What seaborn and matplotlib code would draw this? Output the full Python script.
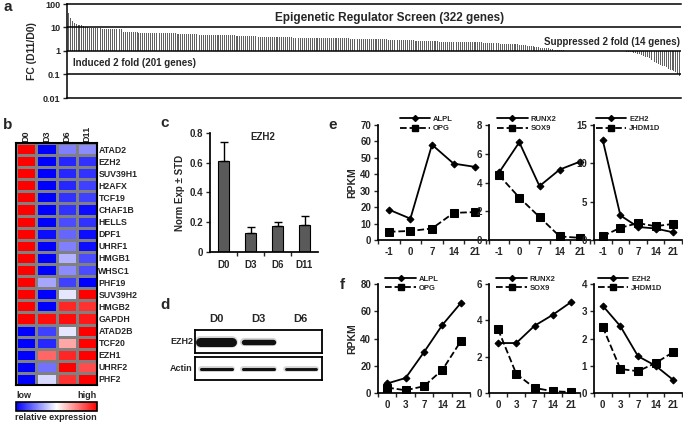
import numpy as np
import pandas as pd
import matplotlib
matplotlib.use("Agg")
import matplotlib.pyplot as plt
import seaborn as sns
from matplotlib.lines import Line2D
from matplotlib.ticker import NullLocator, FixedLocator

# ---- data ----
# a: fold change D11/D0, 322 genes, sorted
fc = [42, 26, 19, 16, 14, 13, 13, 12.5, 12, 11, 10, 9.8, 9.6, 9.5, 9.4, 9.3, 9.2, 9.1, 9.0, 8.9,
      8.9, 8.8, 8.8, 8.7, 8.7, 8.6, 8.6, 8.5, 8.5, 6.6, 6.5, 6.4, 6.4, 6.3, 6.3, 6.2, 6.2, 6.1, 6.1, 6.0,
      6.0, 6.0, 5.9, 5.9, 5.9, 5.8, 5.8, 5.8, 5.8, 5.7, 5.7, 5.7, 5.7, 5.7, 5.6, 5.6, 5.6, 5.5, 5.5, 5.5,
      5.4, 5.4, 5.3, 5.3, 5.2, 5.2, 5.1, 5.1, 5.0, 5.0, 5.0, 5.0, 5.0, 5.0, 5.0, 4.9, 4.9, 4.9, 4.9, 4.9,
      4.8, 4.8, 4.8, 4.7, 4.7, 4.6, 4.6, 4.6, 4.5, 4.5, 4.4, 4.4, 4.4, 4.3, 4.3, 4.3, 4.2, 4.2, 4.2, 4.1,
      4.1, 4.1, 4.1, 4.0, 4.0, 4.0, 4.0, 3.9, 3.9, 3.9, 3.9, 3.9, 3.8, 3.8, 3.8, 3.8, 3.8, 3.8, 3.7, 3.7,
      3.7, 3.7, 3.7, 3.7, 3.7, 3.7, 3.6, 3.6, 3.6, 3.6, 3.6, 3.6, 3.6, 3.6, 3.6, 3.5, 3.5, 3.5, 3.5, 3.5,
      3.5, 3.5, 3.5, 3.5, 3.5, 3.5, 3.5, 3.5, 3.4, 3.4, 3.4, 3.3, 3.3, 3.3, 3.3, 3.2, 3.2, 3.2, 3.2, 3.2,
      3.1, 3.1, 3.1, 3.1, 3.1, 3.1, 3.1, 3.1, 3.0, 3.0, 3.0, 3.0, 3.0, 2.9, 2.9, 2.9, 2.9, 2.8, 2.8, 2.8,
      2.8, 2.8, 2.7, 2.7, 2.7, 2.7, 2.7, 2.6, 2.6, 2.6, 2.6, 2.6, 2.6, 2.6, 2.6, 2.5, 2.5, 2.5, 2.5, 2.5,
      2.5, 2.4, 2.4, 2.4, 2.4, 2.4, 2.4, 2.4, 2.3, 2.3, 2.3, 2.3, 2.3, 2.3, 2.3, 2.3, 2.3, 2.3, 2.2, 2.2,
      2.2, 2.2, 2.2, 2.1, 2.1, 2.1, 2.1, 2.0, 2.0, 2.0, 2.0, 2.0, 1.9, 1.9, 1.9, 1.9, 1.9, 1.8, 1.8, 1.8,
      1.8, 1.7, 1.7, 1.6, 1.6, 1.5, 1.5, 1.5, 1.4, 1.4, 1.35, 1.3, 1.3, 1.25, 1.2, 1.2, 1.15, 1.12, 1.1, 1.08,
      1.06, 1.05, 1.04, 1.03, 1.02, 1.02, 1.01, 1.01, 1.01, 1.0, 1.0, 1.0, 1.0, 1.0, 1.0, 1.0, 1.0, 1.0, 1.0, 1.0,
      1.0, 1.0, 1.0, 1.0, 1.0, 1.0, 1.0, 1.0, 0.99, 0.99, 0.98, 0.97, 0.96, 0.95, 0.93, 0.9, 0.88, 0.85, 0.8, 0.76,
      0.72, 0.68, 0.63, 0.58, 0.53, 0.48, 0.43, 0.38, 0.35, 0.32, 0.29, 0.26, 0.24, 0.22, 0.2, 0.18, 0.16, 0.15, 0.14, 0.13,
      0.11, 0.09]

# b: relative expression heatmap (-1 low .. 1 high)
days_b = ["D0", "D3", "D6", "D11"]
genes_b = ["ATAD2", "EZH2", "SUV39H1", "H2AFX", "TCF19", "CHAF1B", "HELLS", "DPF1", "UHRF1",
           "HMGB1", "WHSC1", "PHF19", "SUV39H2", "HMGB2", "GAPDH", "ATAD2B", "TCF20", "EZH1",
           "UHRF2", "PHF2"]
expr_d0 = [1, 1, 1, 1, 1, 1, 1, 1, 1, 1, 1, 1, 1, 1, 1, -1, -1, -1, -1, -1]
expr_d3 = [-1, -1, -1, -1, -1, -1, -1, -0.95, -1, -1, -1, -0.35, -1, -1, 0.95, -0.75, -0.85, 0.6, -0.55, -0.15]
expr_d6 = [-0.5, -0.85, -0.85, -0.85, -0.8, -0.8, -0.7, -0.6, -0.5, -0.3, -0.45, -0.75, -0.1, 0.85, 0.95, -0.1, 0.35, 0.85, 1, 0.8]
expr_d11 = [-0.45, -0.8, -0.8, -0.75, -0.75, -0.95, -0.8, -0.95, -0.95, -0.7, -0.7, -1, 1, 0.8, 0.9, 1, 1, 1, 0.7, 1]

# c: EZH2 qPCR
days_c = ["D0", "D3", "D6", "D11"]
ezh2_norm = [0.61, 0.13, 0.175, 0.18]
ezh2_std = [0.13, 0.04, 0.025, 0.065]

# d: western blot band strength
lanes_d = ["D0", "D3", "D6"]
band_ezh2 = [1.0, 0.6, 0.0]
band_actin = [0.85, 0.85, 0.8]

# e / f: RNA-seq RPKM
days_e = ["-1", "0", "7", "14", "21"]
days_f = ["0", "3", "7", "14", "21"]
e_alpl = [18.5, 13, 58, 46.5, 44.5]
e_opg = [5, 5.5, 7, 16.5, 17]
e_runx2 = [4.7, 6.8, 3.75, 4.9, 5.45]
e_sox9 = [4.5, 2.95, 1.6, 0.25, 0.15]
e_ezh2 = [13, 3.2, 1.7, 1.5, 1.0]
e_jhdm1d = [0.5, 1.6, 2.2, 1.8, 2.1]
f_alpl = [7, 11, 30, 50, 66]
f_opg = [4, 2, 5, 17, 38]
f_runx2 = [2.75, 2.75, 3.7, 4.3, 5.0]
f_sox9 = [3.5, 1.05, 0.28, 0.1, 0.05]
f_ezh2 = [3.2, 2.45, 1.35, 1.0, 0.48]
f_jhdm1d = [2.42, 0.88, 0.8, 1.1, 1.5]

sns.set_theme(style="white")
plt.rcParams['font.family'] = ['Liberation Sans', 'DejaVu Sans']
plt.rcParams['font.weight'] = 'bold'
plt.rcParams['axes.labelweight'] = 'bold'
plt.rcParams['axes.edgecolor'] = 'black'

W, H = 683, 423
fig = plt.figure(figsize=(W / 100, H / 100), dpi=100)


def box(l, t, r, b):
    return fig.add_axes([l / W, 1 - b / H, (r - l) / W, (b - t) / H])


def letter(x, y, s):
    fig.text(x / W, 1 - y / H, s, fontsize=11, fontweight='bold', va='center', ha='left')


# ---------- a ----------
ax = box(67, 4, 681, 98)
idx = np.arange(len(fc))
ax.bar(idx, np.array(fc) - 1, bottom=1, width=0.5, color='#606060', linewidth=0)
ax.set_yscale('log')
ax.set_ylim(0.01, 100)
ax.set_xlim(-0.8, len(fc) - 0.3)
for v in [10, 1, 0.1]:
    ax.axhline(v, color='black', lw=1.1)
ax.yaxis.set_major_locator(FixedLocator([0.01, 0.1, 1, 10, 100]))
ax.yaxis.set_minor_locator(NullLocator())
ax.set_yticklabels(['0.01', '0.1', '1', '10', '100'])
ax.set_xticks([])
ax.spines['right'].set_visible(False)
for s in ['left', 'top', 'bottom']:
    ax.spines[s].set_linewidth(1.1)
ax.tick_params(axis='y', left=True, length=3, width=1, labelsize=6.5, pad=2)
ax.set_ylabel('FC (D11/D0)', fontsize=7.5, labelpad=4)
ax.text(0.526, 0.85, 'Epigenetic Regulator Screen (322 genes)', transform=ax.transAxes,
        ha='center', va='center', fontsize=8.5, fontweight='bold')
ax.text(0.998, 0.6, 'Suppressed 2 fold (14 genes)', transform=ax.transAxes,
        ha='right', va='center', fontsize=7, fontweight='bold')
ax.text(0.01, 0.37, 'Induced 2 fold (201 genes)', transform=ax.transAxes,
        ha='left', va='center', fontsize=7, fontweight='bold')
letter(3, 7, 'a')

# ---------- b ----------
expr = pd.DataFrame({"D0": expr_d0, "D3": expr_d3, "D6": expr_d6, "D11": expr_d11}, index=genes_b)
axh = box(16, 143, 97, 385)
cax = box(16, 402, 97, 411)
sns.heatmap(expr, ax=axh, cmap='bwr', vmin=-1, vmax=1, linewidths=1, linecolor='#808080',
            xticklabels=True, yticklabels=True,
            cbar_ax=cax, cbar_kws={'orientation': 'horizontal'})
axh.xaxis.tick_top()
axh.set_xticklabels(days_b, rotation=90, fontsize=6.5, fontweight='bold')
axh.yaxis.tick_right()
axh.set_yticklabels(genes_b, rotation=0, fontsize=6.3, fontweight='bold')
axh.tick_params(length=0, pad=1)
for s in axh.spines.values():
    s.set_visible(True)
    s.set_linewidth(1.5)
cax.set_xticks([])
cbar = axh.collections[0].colorbar
cbar.outline.set_linewidth(1.2)
cbar.outline.set_edgecolor('black')
fig.text(16 / W, 1 - 395 / H, 'low', fontsize=6.5, fontweight='bold', va='center', ha='left')
fig.text(97 / W, 1 - 395 / H, 'high', fontsize=6.5, fontweight='bold', va='center', ha='right')
fig.text(56 / W, 1 - 417 / H, 'relative expression', fontsize=6.5, fontweight='bold', va='center', ha='center')
letter(3, 125, 'b')

# ---------- c ----------
axc = box(210, 133, 318, 252)
sns.barplot(x=days_c, y=ezh2_norm, ax=axc, color='#5a5a5a', edgecolor='black', linewidth=0.8,
            width=0.42, saturation=1)
axc.errorbar(np.arange(4), ezh2_norm, yerr=[np.zeros(4), ezh2_std], fmt='none', ecolor='black',
             elinewidth=1, capsize=3, capthick=1)
axc.set_ylim(0, 0.8)
axc.set_xlim(-0.5, 3.5)
axc.set_yticks([0, 0.2, 0.4, 0.6, 0.8])
axc.set_yticklabels(['0', '0.2', '0.4', '0.6', '0.8'])
axc.xaxis.set_minor_locator(FixedLocator([0.5, 1.5, 2.5]))
axc.tick_params(axis='x', which='major', length=0, labelsize=7, pad=6)
axc.tick_params(axis='x', which='minor', bottom=True, length=3, width=1)
axc.tick_params(axis='y', left=True, length=3, width=1, labelsize=7, pad=2)
for s in ['top', 'right']:
    axc.spines[s].set_visible(False)
axc.set_ylabel('Norm Exp ± STD', fontsize=7, labelpad=3)
axc.text(0.49, 0.97, 'EZH2', transform=axc.transAxes, ha='center', va='center', fontsize=7)
letter(160, 123, 'c')

# ---------- d ----------
blot_top = box(195, 330, 322, 353)
blot_bot = box(195, 357, 322, 380)
for axb, bands, thick in [(blot_top, band_ezh2, 6.5), (blot_bot, band_actin, 2.6)]:
    axb.set_xlim(-0.5, 2.5)
    axb.set_ylim(-1, 1)
    axb.set_xticks([])
    axb.set_yticks([])
    for s in axb.spines.values():
        s.set_linewidth(1.3)
    for i, b in enumerate(bands):
        if b <= 0:
            continue
        w = 0.38 * (0.7 + 0.3 * b)
        axb.plot([i - w, i + w], [0, 0], color='#888888', lw=thick * b + 2, alpha=0.35,
                 solid_capstyle='round')
        axb.plot([i - w, i + w], [0, 0], color='#111111', lw=thick * b, solid_capstyle='round')
for i, lab in enumerate(lanes_d):
    blot_top.text(i, 1.5, lab, ha='center', va='bottom', fontsize=8)
blot_top.text(-0.55, 0, 'EZH2', ha='right', va='center', fontsize=6.5)
blot_bot.text(-0.55, 0, 'Actin', ha='right', va='center', fontsize=6.5)
letter(160, 305, 'd')


# ---------- e / f ----------
def rpkm_panel(bx, days, solid, dashed, names, ymax, ystep, leg_x, ylabel=False):
    a = box(*bx)
    x = np.arange(len(days))
    sns.lineplot(x=x, y=solid, ax=a, color='black', lw=1.3, marker='D', markersize=3.5,
                 markeredgecolor='black')
    sns.lineplot(x=x, y=dashed, ax=a, color='black', lw=1.3, linestyle='--', marker='s',
                 markersize=6, markeredgecolor='black')
    a.set_xlim(-0.5, len(days) - 0.5)
    a.set_ylim(0, ymax)
    a.set_yticks(np.arange(0, ymax + ystep / 2, ystep))
    a.set_xticks(x)
    a.set_xticklabels(days)
    a.xaxis.set_minor_locator(FixedLocator(np.arange(-0.5, len(days), 1.0)))
    a.tick_params(axis='x', which='major', length=0, labelsize=7, pad=5)
    a.tick_params(axis='x', which='minor', bottom=True, length=3, width=1)
    a.tick_params(axis='y', left=True, length=3, width=1, labelsize=7, pad=2)
    for s in ['top', 'right']:
        a.spines[s].set_visible(False)
    handles = [Line2D([], [], color='black', lw=1.3, marker='D', markersize=3),
               Line2D([], [], color='black', lw=1.3, ls='--', marker='s', markersize=5)]
    a.legend(handles, names, loc='upper left', bbox_to_anchor=(leg_x, 1.08), frameon=False,
             fontsize=5.5, handlelength=4.0, handletextpad=0.4, labelspacing=0.25,
             borderaxespad=0, borderpad=0)
    if ylabel:
        a.set_ylabel('RPKM', fontsize=7.5, labelpad=2)
    return a


rpkm_panel((378, 125, 486, 240), days_e, e_alpl, e_opg, ['ALPL', 'OPG'], 70, 10, 0.2, True)
rpkm_panel((489, 125, 590, 240), days_e, e_runx2, e_sox9, ['RUNX2', 'SOX9'], 8, 2, 0.08)
rpkm_panel((594, 125, 682, 240), days_e, e_ezh2, e_jhdm1d, ['EZH2', 'JHDM1D'], 15, 5, 0.02)
rpkm_panel((378, 284, 470, 393), days_f, f_alpl, f_opg, ['ALPL', 'OPG'], 80, 20, 0.08, True)
rpkm_panel((489, 284, 580, 393), days_f, f_runx2, f_sox9, ['RUNX2', 'SOX9'], 6, 2, 0.08)
rpkm_panel((594, 284, 682, 393), days_f, f_ezh2, f_jhdm1d, ['EZH2', 'JHDM1D'], 4, 1, 0.04)
letter(328, 125, 'e')
letter(340, 285, 'f')

fig.savefig('out.png', dpi=100)
